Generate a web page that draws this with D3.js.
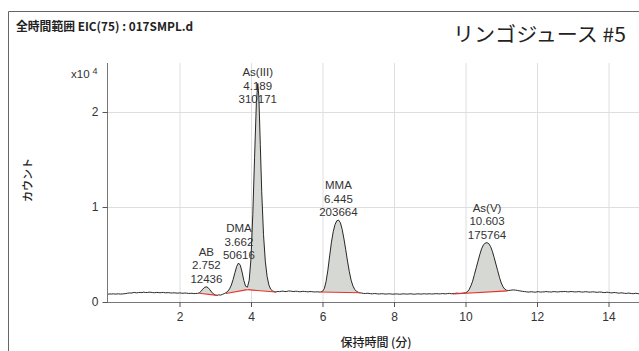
<!DOCTYPE html>
<html>
<head>
<meta charset="utf-8">
<script src="https://cdn.jsdelivr.net/npm/d3@7"></script>
<style>
  body { margin: 0; background: #fff; }
  svg { display: block; }
  .lbl { font-family: "Liberation Sans", Arial, sans-serif; font-size: 11.5px; fill: #333; }
  .jp { font-family: "Noto Sans CJK JP", "Noto Sans", sans-serif; }
</style>
</head>
<body>
<div id="chrom-vis"></div>
<script>
// EIC(75) trace: [retention time (min), counts]
const trace = [
  [0.00,820],[0.05,850],[0.10,835],[0.15,865],[0.20,830],[0.25,850],[0.30,860],[0.35,835],
  [0.40,850],[0.45,870],[0.50,885],[0.55,930],[0.60,955],[0.65,940],[0.70,985],[0.75,1000],
  [0.80,965],[0.85,990],[0.90,1010],[0.95,985],[1.00,1040],[1.05,995],[1.10,1000],[1.15,1030],
  [1.20,1020],[1.25,990],[1.30,975],[1.35,1005],[1.40,1000],[1.45,975],[1.50,990],[1.55,1010],
  [1.60,965],[1.65,980],[1.70,985],[1.75,955],[1.80,950],[1.85,970],[1.90,945],[1.95,930],
  [2.00,960],[2.05,935],[2.10,920],[2.15,945],[2.20,930],[2.25,905],[2.30,900],[2.35,920],
  [2.40,885],[2.45,895],[2.50,905],[2.55,950],[2.60,1120],[2.65,1350],[2.70,1540],[2.75,1600],
  [2.80,1510],[2.85,1290],[2.90,1040],[2.95,850],[3.00,730],[3.05,690],[3.10,760],[3.15,720],
  [3.20,800],[3.25,880],[3.30,980],[3.35,1120],[3.40,1380],[3.45,1780],[3.50,2380],[3.55,3080],
  [3.60,3750],[3.65,4100],[3.70,3880],[3.75,3150],[3.80,2250],[3.85,1650],[3.90,1550],[3.95,2300],
  [4.00,4600],[4.05,9200],[4.10,15200],[4.15,21000],[4.19,23000],[4.22,21600],[4.26,16600],[4.30,11600],
  [4.35,7100],[4.40,4300],[4.45,2700],[4.50,1800],[4.55,1350],[4.60,1180],[4.65,1080],[4.70,1050],
  [4.75,1120],[4.80,1090],[4.85,1130],[4.90,1140],[4.95,1100],[5.00,1110],[5.05,1160],[5.10,1150],
  [5.15,1120],[5.20,1100],[5.25,1135],[5.30,1120],[5.35,1080],[5.40,1090],[5.45,1125],[5.50,1110],
  [5.55,1090],[5.60,1070],[5.65,1100],[5.70,1090],[5.75,1060],[5.80,1060],[5.85,1075],[5.90,1050],
  [5.95,1060],[6.00,1120],[6.05,1400],[6.10,2150],[6.15,3350],[6.20,4850],[6.25,6300],[6.30,7400],
  [6.35,8150],[6.40,8550],[6.45,8620],[6.50,8350],[6.55,7650],[6.60,6650],[6.65,5500],[6.70,4300],
  [6.75,3200],[6.80,2300],[6.85,1700],[6.90,1330],[6.95,1130],[7.00,1020],[7.05,960],[7.10,940],
  [7.15,900],[7.20,890],[7.25,920],[7.30,905],[7.35,870],[7.40,860],[7.45,890],[7.50,880],
  [7.55,845],[7.60,850],[7.65,875],[7.70,865],[7.75,835],[7.80,840],[7.85,865],[7.90,855],
  [7.95,825],[8.00,830],[8.05,855],[8.10,845],[8.15,820],[8.20,830],[8.25,860],[8.30,855],
  [8.35,830],[8.40,840],[8.45,865],[8.50,850],[8.55,825],[8.60,830],[8.65,860],[8.70,855],
  [8.75,835],[8.80,850],[8.85,870],[8.90,840],[8.95,855],[9.00,870],[9.05,845],[9.10,850],
  [9.15,875],[9.20,880],[9.25,855],[9.30,860],[9.35,885],[9.40,870],[9.45,860],[9.50,890],
  [9.55,905],[9.60,870],[9.65,880],[9.70,900],[9.75,930],[9.80,920],[9.85,905],[9.90,930],
  [9.95,945],[10.00,970],[10.05,1060],[10.10,1300],[10.15,1700],[10.20,2200],[10.25,2900],[10.30,3600],
  [10.35,4300],[10.40,5000],[10.45,5600],[10.50,6000],[10.55,6200],[10.60,6250],[10.65,6150],[10.70,5850],
  [10.75,5350],[10.80,4700],[10.85,4000],[10.90,3300],[10.95,2600],[11.00,2000],[11.05,1600],[11.10,1350],
  [11.15,1230],[11.20,1210],[11.25,1230],[11.30,1260],[11.35,1270],[11.40,1250],[11.45,1220],[11.50,1180],
  [11.55,1150],[11.60,1120],[11.65,1095],[11.70,1080],[11.75,1040],[11.80,1060],[11.85,1080],[11.90,1050],
  [11.95,1030],[12.00,1070],[12.05,1085],[12.10,1040],[12.15,1065],[12.20,1060],[12.25,1100],[12.30,1080],
  [12.35,1060],[12.40,1050],[12.45,1090],[12.50,1090],[12.55,1065],[12.60,1060],[12.65,1100],[12.70,1080],
  [12.75,1110],[12.80,1100],[12.85,1075],[12.90,1070],[12.95,1105],[13.00,1090],[13.05,1065],[13.10,1060],
  [13.15,1095],[13.20,1080],[13.25,1050],[13.30,1050],[13.35,1085],[13.40,1070],[13.45,1040],[13.50,1040],
  [13.55,1070],[13.60,1060],[13.65,1030],[13.70,1020],[13.75,1055],[13.80,1040],[13.85,1000],[13.90,990],
  [13.95,1030],[14.00,1010],[14.05,975],[14.10,960],[14.15,1000],[14.20,990],[14.25,950],[14.30,930],
  [14.35,965],[14.40,950],[14.45,915],[14.50,900],[14.55,940],[14.60,920],[14.65,885],[14.70,880],
  [14.75,915],[14.80,900],[14.85,860],[14.90,870],[14.95,905],[15.00,880]
];

// integrated peaks
const peakNames = ["AB", "DMA", "As(III)", "MMA", "As(V)"];
const peakRT    = ["2.752", "3.662", "4.189", "6.445", "10.603"];
const peakArea  = ["12436", "50616", "310171", "203664", "175764"];
// integration baselines: [start t, start counts, end t, end counts]
const peakBase  = [
  [2.55, 920, 3.05, 700],
  [3.30, 900, 3.90, 1300],
  [3.90, 1300, 4.70, 1050],
  [5.95, 1050, 7.05, 980],
  [9.65, 850, 11.18, 1170]
];

const xTicks = [2, 4, 6, 8, 10, 12, 14];
const yTicks = [0, 10000, 20000];

function ChromVis() {
  let self = this;
  self.init();
}

ChromVis.prototype.init = function() {
  let self = this;
  self.width = 639;
  self.height = 351;
  self.plot = {left: 107, top: 63, bottom: 302, right: 639};

  self.svg = d3.select("#chrom-vis").append("svg")
    .attr("width", self.width)
    .attr("height", self.height);

  self.x = d3.scaleLinear().domain([0, 15]).range([108, 108 + 15 * 35.75]);
  self.y = d3.scaleLinear().domain([0, 25160]).range([self.plot.bottom, self.plot.top]);

  self.draw();
};

ChromVis.prototype.draw = function() {
  let self = this;
  const x = self.x, y = self.y, p = self.plot;
  const svg = self.svg;

  // frame
  svg.append("path")
    .attr("d", `M8.5,${self.height} V11.5 H${self.width}`)
    .attr("fill", "none").attr("stroke", "#666").attr("stroke-width", 1);

  // titles
  svg.append("text").attr("class", "jp")
    .attr("x", 16).attr("y", 30.5)
    .attr("font-size", 12).attr("font-weight", 700).attr("fill", "#222")
    .attr("textLength", 177).attr("lengthAdjust", "spacingAndGlyphs")
    .text("全時間範囲 EIC(75) : 017SMPL.d");
  svg.append("text").attr("class", "jp")
    .attr("x", 453).attr("y", 42)
    .attr("font-size", 20).attr("fill", "#222")
    .attr("textLength", 173).attr("lengthAdjust", "spacingAndGlyphs")
    .text("リンゴジュース #5");

  // grid
  svg.append("g").selectAll("line").data(xTicks).enter().append("line")
    .attr("x1", d => x(d) + 0.5).attr("x2", d => x(d) + 0.5)
    .attr("y1", p.top).attr("y2", p.bottom)
    .attr("stroke", "#dedede");
  svg.append("g").selectAll("line").data(yTicks.slice(1)).enter().append("line")
    .attr("x1", p.left).attr("x2", p.right)
    .attr("y1", d => Math.round(y(d)) + 0.5).attr("y2", d => Math.round(y(d)) + 0.5)
    .attr("stroke", "#dedede");

  // axes
  const xAxis = d3.axisBottom(x).tickValues(xTicks).tickSize(5).tickSizeOuter(0);
  const yAxis = d3.axisLeft(y).tickValues(yTicks).tickSize(5).tickSizeOuter(0)
    .tickFormat(d => d / 10000);

  const gx = svg.append("g").attr("transform", `translate(0,${p.bottom})`).call(xAxis);
  gx.select(".domain").attr("d", `M${p.left},0.5H${p.right}`);
  const gy = svg.append("g").attr("transform", `translate(${p.left + 0.5},0)`).call(yAxis);
  gy.select(".domain").attr("d", `M0,${p.top}V${p.bottom}`);

  [gx, gy].forEach(g => {
    g.select(".domain").attr("stroke", "#777");
    g.selectAll(".tick line").attr("stroke", "#555");
    g.selectAll(".tick text")
      .attr("font-family", "Liberation Sans, Arial, sans-serif")
      .attr("font-size", 12).attr("fill", "#333");
  });
  gx.selectAll(".tick text").attr("dy", "0.95em");
  gy.selectAll(".tick text").attr("dx", "-1px");

  // exponent
  const ex = svg.append("text").attr("class", "lbl").attr("x", 71).attr("y", 78);
  ex.append("tspan").text("x10");
  ex.append("tspan").attr("dx", 3).attr("dy", -4).attr("font-size", 9).text("4");

  // axis titles
  svg.append("text").attr("class", "jp")
    .attr("transform", "translate(32,180) rotate(-90)")
    .attr("text-anchor", "middle").attr("font-size", 11).attr("font-weight", 500).attr("fill", "#222")
    .text("カウント");
  svg.append("text").attr("class", "jp")
    .attr("x", 376).attr("y", 347)
    .attr("text-anchor", "middle").attr("font-size", 12).attr("font-weight", 500).attr("fill", "#222")
    .text("保持時間 (分)");

  // peak fills between trace and integration baseline
  const baseAt = (b, t) => b[1] + (b[3] - b[1]) * (t - b[0]) / (b[2] - b[0]);
  peakBase.forEach(b => {
    const pts = [[b[0], baseAt(b, b[0]), baseAt(b, b[0])]];
    trace.filter(d => d[0] > b[0] && d[0] < b[2])
      .forEach(d => pts.push([d[0], Math.max(d[1], baseAt(b, d[0])), baseAt(b, d[0])]));
    pts.push([b[2], baseAt(b, b[2]), baseAt(b, b[2])]);
    svg.append("path").datum(pts)
      .attr("fill", "#d6d8d4")
      .attr("d", d3.area().x(d => x(d[0])).y0(d => y(d[2])).y1(d => y(d[1])));
  });

  // trace
  svg.append("clipPath").attr("id", "plot-clip")
    .append("rect").attr("x", p.left).attr("y", 0).attr("width", p.right - p.left).attr("height", p.bottom);
  svg.append("path").datum(trace)
    .attr("clip-path", "url(#plot-clip)")
    .attr("fill", "none").attr("stroke", "#111").attr("stroke-width", 0.9)
    .attr("d", d3.line().x(d => x(d[0])).y(d => y(d[1])));

  // baselines
  svg.append("g").selectAll("line").data(peakBase).enter().append("line")
    .attr("x1", d => x(d[0])).attr("y1", d => y(d[1]))
    .attr("x2", d => x(d[2])).attr("y2", d => y(d[3]))
    .attr("stroke", "#e8312a").attr("stroke-width", 1.1);

  // peak labels
  peakNames.forEach((name, i) => {
    const rt = +peakRT[i];
    const apex = d3.max(trace.filter(d => Math.abs(d[0] - rt) < 0.06), d => d[1]);
    let last = y(apex) - 4;
    last = Math.max(last, 76 + 2 * 13.5);
    const lines = [name, peakRT[i], peakArea[i]];
    lines.forEach((s, j) => {
      svg.append("text").attr("class", "lbl")
        .attr("x", x(rt)).attr("y", last - (2 - j) * 13.5)
        .attr("text-anchor", "middle")
        .text(s);
    });
  });
};

new ChromVis();
</script>
</body>
</html>
